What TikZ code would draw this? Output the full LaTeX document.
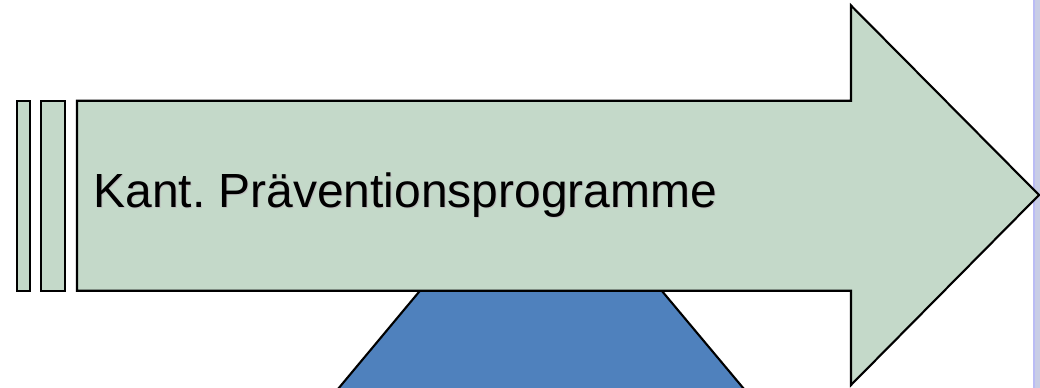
\documentclass[tikz,border=0pt]{standalone}
\usepackage{fontspec}
\setmainfont{Liberation Sans}
\usepackage{tikz}
\usetikzlibrary{calc,positioning}
\definecolor{arrowgreen}{RGB}{196,217,201}
\definecolor{baseblue}{RGB}{79,129,189}
\definecolor{stripblue}{RGB}{200,205,230}
\tikzset{
  outline/.style={draw=black,line width=1.2pt,line join=miter},
  greenpart/.style={outline,fill=arrowgreen},
  every node/.style={font=\fontsize{27.3}{31}\selectfont}
}
\frenchspacing

\begin{document}
\begin{tikzpicture}[x=0.02cm,y=-0.02cm]
  % ---- drawing window (matches the screenshot range) ----
  \def\xmin{0} \def\xmax{1040}
  \def\ymin{0} \def\ymax{388}
  \useasboundingbox (\xmin,\ymin) rectangle (\xmax,\ymax);
  \clip (\xmin,\ymin) rectangle (\xmax,\ymax);

  % ---- side strip ----
  \fill[stripblue] (1033,\ymin) rectangle (\xmax,\ymax);
  \draw[stripblue!70!blue!60,line width=0.6pt] (1034,\ymin) -- (1034,\ymax);

  % ---- base (trapezoid under the arrow) ----
  \draw[outline,fill=baseblue] (420,290.7) -- (661.7,290.7) -- (749,395) -- (333,395) -- cycle;

  % ---- stripes in front of the arrow ----
  \draw[greenpart] (17.3,100.7) rectangle (30,290.7);
  \draw[greenpart] (41,100.7) rectangle (65,290.7);

  % ---- block arrow ----
  \coordinate (S1) at (77,100.7);   % tail, top
  \coordinate (S2) at (851,100.7);  % shoulder, top
  \coordinate (H1) at (851,5.5);    % head, top
  \coordinate (T)  at (1039,195);   % tip
  \coordinate (H2) at (851,385);    % head, bottom
  \coordinate (S3) at (851,290.7);  % shoulder, bottom
  \coordinate (S4) at (77,290.7);   % tail, bottom
  \draw[greenpart] (S1) -- (S2) -- (H1) -- (T) -- (H2) -- (S3) -- (S4) -- cycle;

  % ---- label with soft shadow ----
  \node[black!25,anchor=base west,inner sep=0pt] (labelshadow) at (94,209) {Kant. Präventionsprogramme};
  \node[black,anchor=base west,inner sep=0pt] (label) at (93,207.7) {Kant. Präventionsprogramme};
\end{tikzpicture}
\end{document}
